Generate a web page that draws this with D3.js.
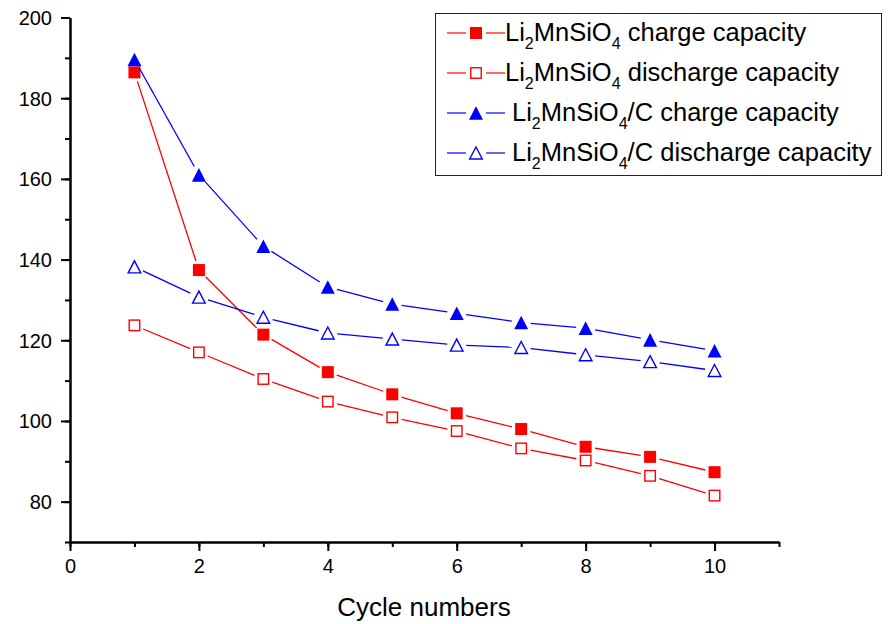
<!DOCTYPE html>
<html>
<head>
<meta charset="utf-8">
<script src="https://cdn.jsdelivr.net/npm/d3@7"></script>
<style>
  body { margin: 0; background: #fff; }
  svg { font-family: "Liberation Sans", Arial, sans-serif; }
</style>
</head>
<body>
<div id="chart"></div>
<script>
// Data
const cycles = [1, 2, 3, 4, 5, 6, 7, 8, 9, 10];
const chargeBare      = [186.4, 137.4, 121.4, 112.1, 106.6, 101.9, 98.0, 93.6, 91.1, 87.3];
const dischargeBare   = [123.7, 117.0, 110.4, 104.8, 100.9, 97.5, 93.2, 90.2, 86.4, 81.5];
const chargeCoated    = [189.6, 161.0, 143.3, 133.2, 129.0, 126.7, 124.4, 123.0, 120.1, 117.4];
const dischargeCoated = [138.2, 130.7, 125.7, 121.8, 120.3, 118.8, 118.2, 116.4, 114.7, 112.5];

const xMajor = [0, 2, 4, 6, 8, 10];
const yMajor = [80, 100, 120, 140, 160, 180, 200];

const series = [
    { name: " charge capacity",   suffix: "",   values: chargeBare,      color: "#ff0000", shape: "square",   filled: true },
    { name: " discharge capacity", suffix: "",  values: dischargeBare,   color: "#ff0000", shape: "square",   filled: false },
    { name: " charge capacity",   suffix: "/C", values: chargeCoated,    color: "#0000ff", shape: "triangle", filled: true },
    { name: " discharge capacity", suffix: "/C", values: dischargeCoated, color: "#0000ff", shape: "triangle", filled: false }
];

// Dimensions
const W = 888, H = 624;
const margin = { top: 17.5, right: 109, bottom: 82, left: 70 },
    width  = W - margin.left - margin.right,
    height = H - margin.top - margin.bottom;

const svg = d3.select("#chart")
    .append("svg")
    .attr("width", W)
    .attr("height", H);

const g = svg.append("g")
    .attr("transform", `translate(${margin.left}, ${margin.top})`);

// Scales
const x = d3.scaleLinear().domain([0, 11]).range([0, width]);
const y = d3.scaleLinear().domain([70, 200]).range([height, 0]);

// Minor ticks first (no labels)
const xMinor = g.append("g")
    .attr("transform", `translate(0, ${height})`)
    .call(d3.axisBottom(x).tickValues(d3.range(0, 12)).tickSize(5).tickSizeOuter(0).tickFormat(""));
const yMinor = g.append("g")
    .call(d3.axisLeft(y).tickValues(d3.range(70, 201, 10)).tickSize(5).tickSizeOuter(0).tickFormat(""));

// Major ticks with labels
const xAxis = g.append("g")
    .attr("transform", `translate(0, ${height})`)
    .call(d3.axisBottom(x).tickValues(xMajor).tickSize(9).tickSizeOuter(0).tickPadding(8));
const yAxis = g.append("g")
    .call(d3.axisLeft(y).tickValues(yMajor).tickSize(9).tickSizeOuter(0).tickPadding(9));

[xMinor, yMinor, xAxis, yAxis].forEach(a => {
    a.selectAll("path, line").attr("stroke", "#000").attr("stroke-width", 2);
    a.selectAll("text").attr("fill", "#000").attr("font-size", 20)
        .attr("font-family", "Liberation Sans, Arial, sans-serif");
});
yAxis.selectAll("text").attr("dy", "0.35em");

// X-axis label
g.append("text")
    .attr("x", x(5.5) - 0.5)
    .attr("y", height + 74)
    .attr("text-anchor", "middle")
    .attr("font-size", 26)
    .text("Cycle numbers");

// Marker drawing helper
function drawMarker(sel, s, cx, cy) {
    if (s.shape === "square") {
        const sz = s.filled ? 12 : 10.5;
        sel.append("rect")
            .attr("x", cx - sz / 2)
            .attr("y", cy - sz / 2)
            .attr("width", sz)
            .attr("height", sz)
            .attr("fill", s.filled ? s.color : "#fff")
            .attr("stroke", s.color)
            .attr("stroke-width", s.filled ? 0 : 1.4);
    } else {
        const hw = s.filled ? 7 : 6.3, hh = s.filled ? 6.8 : 6;
        sel.append("path")
            .attr("d", `M${cx},${cy - hh}L${cx + hw},${cy + hh}L${cx - hw},${cy + hh}Z`)
            .attr("fill", s.filled ? s.color : "#fff")
            .attr("stroke", s.color)
            .attr("stroke-width", s.filled ? 0 : 1.4);
    }
}

// Lines with gaps around markers, then markers
const gap = 9.5;
series.forEach(s => {
    const pts = cycles.map((c, i) => [x(c), y(s.values[i])]);
    for (let i = 0; i < pts.length - 1; i++) {
        const [x1, y1] = pts[i], [x2, y2] = pts[i + 1];
        const dx = x2 - x1, dy = y2 - y1, len = Math.hypot(dx, dy);
        if (len <= 2 * gap) continue;
        const ux = dx / len, uy = dy / len;
        g.append("line")
            .attr("x1", x1 + ux * gap).attr("y1", y1 + uy * gap)
            .attr("x2", x2 - ux * gap).attr("y2", y2 - uy * gap)
            .attr("stroke", s.color)
            .attr("stroke-width", 1.3);
    }
    pts.forEach(p => drawMarker(g, s, p[0], p[1]));
});

// Legend
const legend = svg.append("g");
legend.append("rect")
    .attr("x", 435.5).attr("y", 13.5)
    .attr("width", 446).attr("height", 162)
    .attr("fill", "#fff")
    .attr("stroke", "#222")
    .attr("stroke-width", 1);

series.forEach((s, i) => {
    const cy = 33 + i * 40;
    legend.append("line").attr("x1", 447).attr("x2", 466).attr("y1", cy).attr("y2", cy)
        .attr("stroke", s.color).attr("stroke-width", 1.2);
    legend.append("line").attr("x1", 486).attr("x2", 505).attr("y1", cy).attr("y2", cy)
        .attr("stroke", s.color).attr("stroke-width", 1.2);
    drawMarker(legend, s, 476, cy);

    const t = legend.append("text")
        .attr("x", s.suffix ? 512 : 505)
        .attr("y", cy + 8)
        .attr("font-size", 25.5)
        .attr("fill", "#000");
    t.append("tspan").text("Li");
    t.append("tspan").attr("font-size", 16).attr("dy", 8).text("2");
    t.append("tspan").attr("dy", -8).text("MnSiO");
    t.append("tspan").attr("font-size", 16).attr("dy", 8).text("4");
    t.append("tspan").attr("dy", -8).text(s.suffix + s.name);
});
</script>
</body>
</html>
